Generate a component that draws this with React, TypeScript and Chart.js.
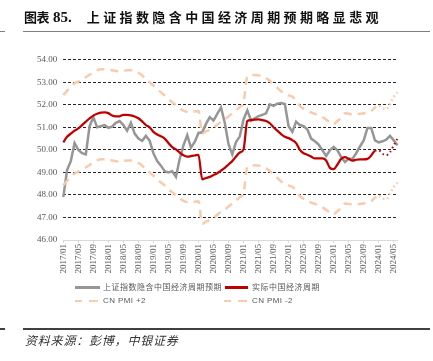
import React, { useEffect, useRef } from "react";
import { Chart, registerables } from "chart.js";

Chart.register(...registerables);

const months: string[] = [
  "2017/01","2017/02","2017/03","2017/04","2017/05","2017/06","2017/07","2017/08","2017/09","2017/10","2017/11","2017/12",
  "2018/01","2018/02","2018/03","2018/04","2018/05","2018/06","2018/07","2018/08","2018/09","2018/10","2018/11","2018/12",
  "2019/01","2019/02","2019/03","2019/04","2019/05","2019/06","2019/07","2019/08","2019/09","2019/10","2019/11","2019/12",
  "2020/01","2020/02","2020/03","2020/04","2020/05","2020/06","2020/07","2020/08","2020/09","2020/10","2020/11","2020/12",
  "2021/01","2021/02","2021/03","2021/04","2021/05","2021/06","2021/07","2021/08","2021/09","2021/10","2021/11","2021/12",
  "2022/01","2022/02","2022/03","2022/04","2022/05","2022/06","2022/07","2022/08","2022/09","2022/10","2022/11","2022/12",
  "2023/01","2023/02","2023/03","2023/04","2023/05","2023/06","2023/07","2023/08","2023/09","2023/10","2023/11","2023/12",
  "2024/01","2024/02","2024/03","2024/04","2024/05","2024/06"
];

// 上证指数隐含中国经济周期预期
const impliedCycle: number[] = [
  47.9, 49.1, 49.5, 50.3, 50.0, 49.85, 49.8, 51.05, 51.45, 51.0, 51.05, 51.1,
  50.98, 51.03, 51.2, 51.28, 51.1, 50.85, 51.2, 50.72, 50.5, 50.4, 50.62, 50.4,
  49.85, 49.5, 49.3, 49.05, 49.0, 49.05, 48.8, 49.6, 50.2, 50.65, 50.1, 50.35,
  50.75, 50.78, 51.15, 51.45, 51.3, 51.6, 51.88, 51.2, 50.25, 49.8, 50.35, 50.6,
  51.35, 51.75, 51.3, 51.4, 51.5, 51.55, 51.62, 52.02, 51.95, 52.05, 52.08, 52.03,
  51.05, 50.8, 51.25, 51.1, 51.05, 50.9, 50.5, 50.38, 50.23, 49.98, 49.73, 49.98,
  50.13, 49.98, 49.68, 49.46, 49.6, 49.6, 49.85, 50.15, 50.42, 50.97, 50.97, 50.42,
  50.33, 50.38, 50.45, 50.62, 50.42, 50.2
];

// 实际中国经济周期
const actualCycle: number[] = [
  50.33, 50.58, 50.72, 50.85, 50.95, 51.1, 51.25, 51.4, 51.52, 51.6, 51.65, 51.66,
  51.63, 51.52, 51.48, 51.49, 51.55, 51.55, 51.53, 51.48, 51.4, 51.26, 51.1, 51.0,
  50.8, 50.68, 50.6, 50.5, 50.3, 50.12, 50.02, 49.88, 49.76, 49.7, 49.72, 49.75,
  49.78, 48.69, 48.75, 48.8, 48.88, 48.96, 49.08, 49.2, 49.35, 49.5, 49.7, 49.88,
  50.02, 51.28, 51.32, 51.34, 51.35, 51.32, 51.28, 51.18, 51.0, 50.85, 50.7, 50.58,
  50.52, 50.43, 50.3, 50.0, 49.85, 49.78, 49.7, 49.62, 49.62, 49.62, 49.53, 49.2,
  49.14, 49.35, 49.6, 49.68, 49.6, 49.52, 49.56, 49.58, 49.58, 49.6, 49.75, 49.96,
  49.98, 49.83, 49.76, 49.9, 50.2, 50.5
];

// CN PMI +2
const pmiPlus2: number[] = [
  52.43, 52.62, 52.8, 52.95, 53.03, 53.1, 53.22, 53.33, 53.45, 53.53, 53.58, 53.58,
  53.56, 53.53, 53.5, 53.48, 53.5, 53.53, 53.53, 53.5, 53.42, 53.3, 53.12, 53.0,
  52.85, 52.7, 52.55, 52.42, 52.25, 52.12, 51.98, 51.85, 51.74, 51.68, 51.66, 51.7,
  51.72, 50.72, 50.82, 50.88, 50.98, 51.12, 51.25, 51.35, 51.48, 51.62, 51.76, 51.9,
  52.1, 53.24, 53.3, 53.32, 53.3, 53.28, 53.18, 53.06, 52.88, 52.75, 52.6, 52.5,
  52.42, 52.36, 52.18, 51.95, 51.82, 51.72, 51.66, 51.6, 51.52, 51.45, 51.34, 51.22,
  51.14, 51.28, 51.42, 51.62, 51.6, 51.58, 51.58, 51.6, 51.62, 51.66, 51.72, 51.88,
  51.95, 51.85, 51.8, 52.05, 52.35, 52.55
];

// CN PMI -2
const pmiMinus2: number[] = [
  48.43, 48.62, 48.8, 48.95, 49.03, 49.1, 49.22, 49.33, 49.45, 49.53, 49.58, 49.58,
  49.56, 49.53, 49.5, 49.48, 49.5, 49.53, 49.53, 49.5, 49.42, 49.3, 49.12, 49.0,
  48.85, 48.7, 48.55, 48.42, 48.25, 48.12, 47.98, 47.85, 47.74, 47.68, 47.66, 47.7,
  47.72, 46.72, 46.82, 46.88, 46.98, 47.12, 47.25, 47.35, 47.48, 47.62, 47.76, 47.9,
  48.1, 49.24, 49.3, 49.32, 49.3, 49.28, 49.18, 49.06, 48.88, 48.75, 48.6, 48.5,
  48.42, 48.36, 48.18, 47.95, 47.82, 47.72, 47.66, 47.6, 47.52, 47.45, 47.34, 47.22,
  47.14, 47.28, 47.42, 47.62, 47.6, 47.58, 47.58, 47.6, 47.62, 47.66, 47.72, 47.88,
  47.95, 47.85, 47.8, 48.05, 48.35, 48.55
];

const forecastStart = 83;

const GRAY = "#969696";
const RED = "#c00000";
const ORANGE = "#f8cbad";
const AXIS_TEXT = "#595959";

export default function App() {
  const canvasRef = useRef<HTMLCanvasElement | null>(null);

  useEffect(() => {
    if (!canvasRef.current) return;
    const dotted = (ctx: any) => (ctx.p0DataIndex >= forecastStart ? [1.5, 3] : undefined);
    const chart = new Chart(canvasRef.current, {
      type: "line",
      data: {
        labels: months,
        datasets: [
          {
            label: "上证指数隐含中国经济周期预期",
            data: impliedCycle,
            borderColor: GRAY,
            borderWidth: 2.5,
            pointRadius: 0,
            tension: 0,
            order: 4,
          },
          {
            label: "实际中国经济周期",
            data: actualCycle,
            borderColor: RED,
            borderWidth: 2.25,
            pointRadius: 0,
            cubicInterpolationMode: "monotone",
            order: 3,
            segment: { borderDash: dotted, borderWidth: (ctx: any) => (ctx.p0DataIndex >= forecastStart ? 2 : undefined) },
          },
          {
            label: "CN PMI +2",
            data: pmiPlus2,
            borderColor: ORANGE,
            borderWidth: 2.5,
            borderDash: [8, 6],
            pointRadius: 0,
            cubicInterpolationMode: "monotone",
            order: 2,
            segment: { borderDash: dotted },
          },
          {
            label: "CN PMI -2",
            data: pmiMinus2,
            borderColor: ORANGE,
            borderWidth: 2.5,
            borderDash: [8, 6],
            pointRadius: 0,
            cubicInterpolationMode: "monotone",
            order: 1,
            segment: { borderDash: dotted },
          },
        ],
      },
      options: {
        responsive: false,
        animation: false,
        events: [],
        layout: { padding: { left: 0, top: 59.7, right: 35.5, bottom: 0 } },
        plugins: { legend: { display: false }, tooltip: { enabled: false }, title: { display: false } },
        scales: {
          x: {
            type: "category",
            offset: false,
            afterFit: (scale: any) => {
              scale.height = 121;
            },
            border: { display: true, color: "#d9d9d9", width: 1 },
            grid: {
              drawOnChartArea: false,
              drawTicks: true,
              tickLength: 3,
              color: "#d9d9d9",
            },
            ticks: {
              autoSkip: false,
              maxRotation: 90,
              minRotation: 90,
              padding: 1,
              color: AXIS_TEXT,
              font: { family: "'Liberation Serif', serif", size: 9 },
              callback: (_v: any, index: number) => (index % 4 === 0 ? months[index] : null),
            },
          },
          y: {
            min: 46,
            max: 54,
            afterFit: (scale: any) => {
              scale.width = 63.3;
            },
            border: { display: false, dash: [3, 2] },
            grid: {
              drawTicks: false,
              lineWidth: 1,
              color: (ctx: any) => (ctx.tick && ctx.tick.value === 46 ? "rgba(0,0,0,0)" : "#262626"),
            },
            ticks: {
              stepSize: 1,
              padding: 6,
              color: AXIS_TEXT,
              font: { family: "'Liberation Serif', serif", size: 9 },
              callback: (v: any) => Number(v).toFixed(2),
            },
          },
        },
      },
    });
    return () => chart.destroy();
  }, []);

  const abs = (s: React.CSSProperties): React.CSSProperties => ({ position: "absolute", ...s });
  const legendText: React.CSSProperties = {
    fontFamily: "'Noto Sans CJK SC', 'Noto Sans', sans-serif",
    fontSize: 8,
    lineHeight: "10px",
    color: AXIS_TEXT,
    letterSpacing: 0.5,
    whiteSpace: "nowrap",
  };
  const pmiText: React.CSSProperties = {
    ...legendText,
    fontFamily: "'Liberation Sans', sans-serif",
    letterSpacing: 0.4,
  };

  return (
    <div style={abs({ left: 0, top: 0, width: 433, height: 361, background: "#ffffff", overflow: "hidden" })}>
      <canvas ref={canvasRef} width={433} height={361} style={abs({ left: 0, top: 0, width: 433, height: 361 })} />

      {/* title */}
      <div
        style={abs({
          left: 24,
          top: 9,
          height: 16,
          lineHeight: "16px",
          whiteSpace: "nowrap",
          color: "#111",
          fontFamily: "'Noto Sans CJK SC', sans-serif",
          fontWeight: 700,
          fontSize: 13,
        })}
      >
        <span style={{ letterSpacing: -0.5 }}>图表</span>
        <span style={{ fontFamily: "'Liberation Serif', serif", fontSize: 15, marginLeft: 4 }}>85.</span>
        <span style={{ letterSpacing: 3.4, marginLeft: 15 }}>上证指数隐含中国经济周期预期略显悲观</span>
      </div>
      <div style={abs({ left: 0, top: 31, width: 5, height: 1.3, background: "#7f7f7f" })} />
      <div style={abs({ left: 23, top: 31, width: 407, height: 1.3, background: "#7f7f7f" })} />

      {/* legend */}
      <div style={abs({ left: 75, top: 285.5, width: 25, height: 3, background: GRAY })} />
      <div style={abs({ ...legendText, left: 103, top: 282 })}>上证指数隐含中国经济周期预期</div>
      <div style={abs({ left: 225, top: 285.5, width: 23, height: 3, background: RED })} />
      <div style={abs({ ...legendText, left: 252, top: 282 })}>实际中国经济周期</div>

      <div style={abs({ left: 75, top: 299.5, width: 7, height: 2.5, background: ORANGE })} />
      <div style={abs({ left: 89, top: 299.5, width: 8.5, height: 2.5, background: ORANGE })} />
      <div style={abs({ ...pmiText, left: 103, top: 296 })}>CN PMI +2</div>
      <div style={abs({ left: 224, top: 299.5, width: 7, height: 2.5, background: ORANGE })} />
      <div style={abs({ left: 238, top: 299.5, width: 9, height: 2.5, background: ORANGE })} />
      <div style={abs({ ...pmiText, left: 252, top: 296 })}>CN PMI -2</div>

      {/* source */}
      <div style={abs({ left: 0, top: 328, width: 5, height: 1.5, background: "#404040" })} />
      <div style={abs({ left: 23, top: 328, width: 407, height: 1.5, background: "#404040" })} />
      <div
        style={abs({
          left: 25,
          top: 333,
          lineHeight: "14px",
          whiteSpace: "nowrap",
          fontFamily: "'Noto Sans CJK SC', sans-serif",
          fontStyle: "italic",
          fontSize: 12,
          letterSpacing: 0.8,
          color: "#333",
        })}
      >
        资料来源：彭博，中银证券
      </div>
    </div>
  );
}
